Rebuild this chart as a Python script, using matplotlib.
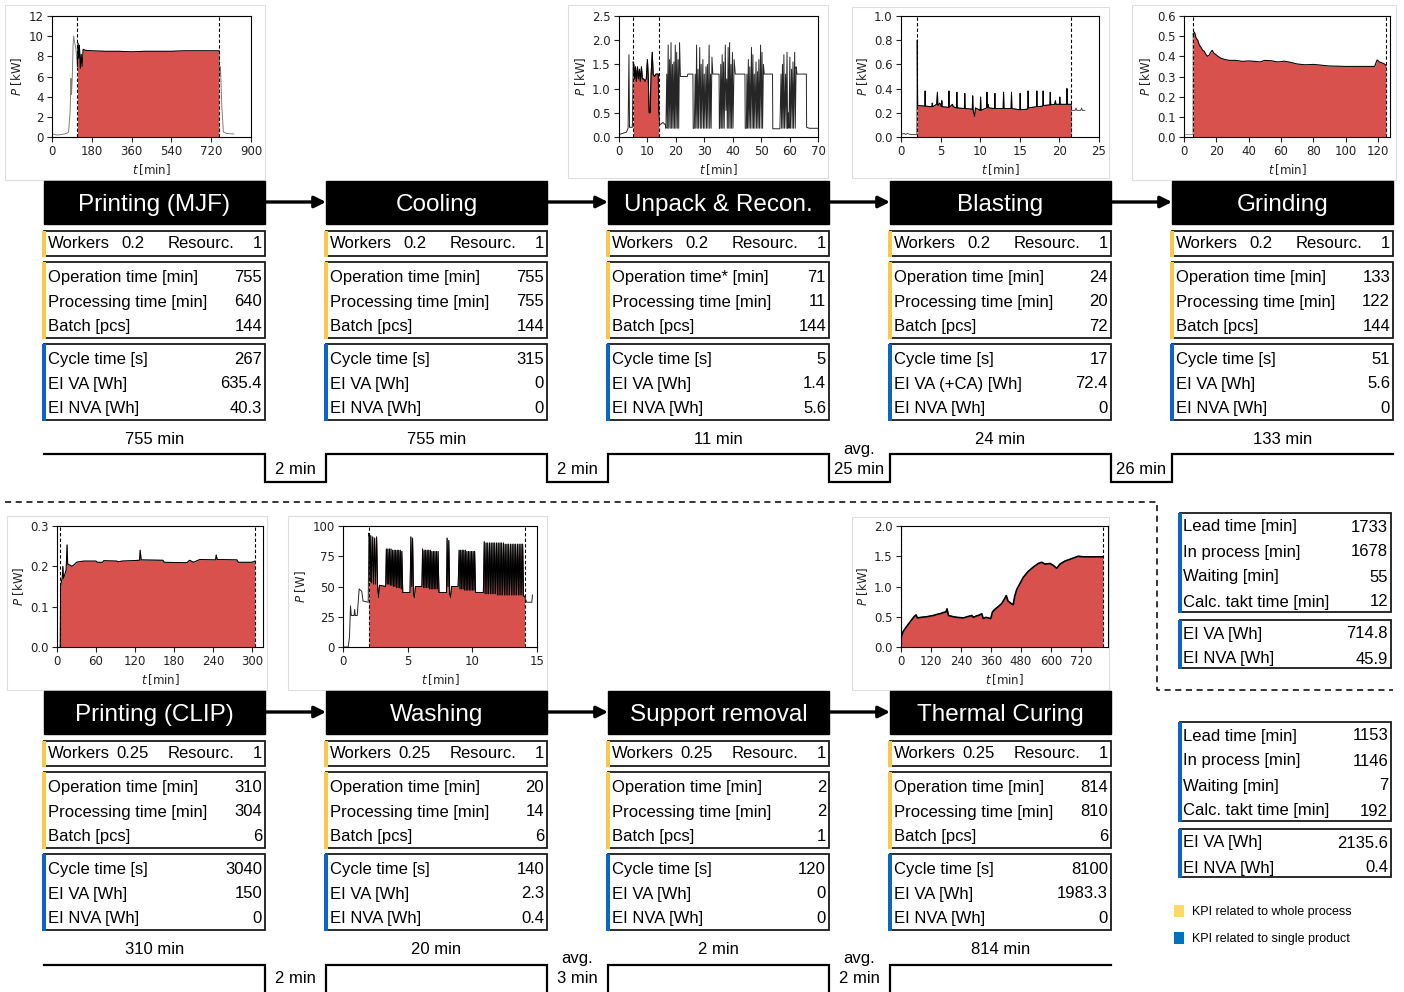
import numpy as np
import matplotlib
matplotlib.use("Agg")
import matplotlib.pyplot as plt
from matplotlib.patches import Rectangle

# ---------------------------------------------------------------- colours / fonts
RED = "#d9514d"
YELLOW = "#f8c94a"
BLUE = "#0a66c2"
EDGE = "#1a1a1a"
SANS = ["Liberation Sans", "DejaVu Sans"]

# ---------------------------------------------------------------- process KPIs, MJF line
mjf_names = ["Printing (MJF)", "Cooling", "Unpack & Recon.", "Blasting", "Grinding"]
mjf_workers = [0.2, 0.2, 0.2, 0.2, 0.2]
mjf_resources = [1, 1, 1, 1, 1]
mjf_op_labels = ["Operation time [min]", "Operation time [min]", "Operation time* [min]",
                 "Operation time [min]", "Operation time [min]"]
mjf_operation = [755, 755, 71, 24, 133]
mjf_processing = [640, 755, 11, 20, 122]
mjf_batch = [144, 144, 144, 72, 144]
mjf_cycle = [267, 315, 5, 17, 51]
mjf_va_labels = ["EI VA [Wh]", "EI VA [Wh]", "EI VA [Wh]", "EI VA (+CA) [Wh]", "EI VA [Wh]"]
mjf_ei_va = [635.4, 0, 1.4, 72.4, 5.6]
mjf_ei_nva = [40.3, 0, 5.6, 0, 0]
mjf_step_minutes = [755, 755, 11, 24, 133]
mjf_wait_minutes = [2, 2, 25, 26]
mjf_wait_is_avg = [False, False, True, False]

# ---------------------------------------------------------------- process KPIs, CLIP line
clip_names = ["Printing (CLIP)", "Washing", "Support removal", "Thermal Curing"]
clip_workers = [0.25, 0.25, 0.25, 0.25]
clip_resources = [1, 1, 1, 1]
clip_operation = [310, 20, 2, 814]
clip_processing = [304, 14, 2, 810]
clip_batch = [6, 6, 1, 6]
clip_cycle = [3040, 140, 120, 8100]
clip_ei_va = [150, 2.3, 0, 1983.3]
clip_ei_nva = [0, 0.4, 0, 0]
clip_step_minutes = [310, 20, 2, 814]
clip_wait_minutes = [2, 3, 2]
clip_wait_is_avg = [False, True, True]

# ---------------------------------------------------------------- line totals
summary_labels = ["Lead time [min]", "In process [min]", "Waiting [min]", "Calc. takt time [min]"]
energy_labels = ["EI VA [Wh]", "EI NVA [Wh]"]
mjf_summary = [1733, 1678, 55, 12]
mjf_energy = [714.8, 45.9]
clip_summary = [1153, 1146, 7, 192]
clip_energy = [2135.6, 0.4]

# ---------------------------------------------------------------- power traces (t [min], P)
mjf_trace = [
    (0, 0.3), (10, 0.25), (25, 0.2), (45, 0.25), (65, 0.35), (75, 0.5), (82, 2.5),
    (86, 5.8), (88, 4.2), (92, 6.0), (95, 9.0), (98, 10.0), (103, 9.3), (108, 8.8),
    (115, 7.0), (118, 9.3), (121, 7.8), (124, 9.1), (128, 6.8), (132, 8.2), (136, 7.0),
    (141, 8.7), (150, 8.6), (180, 8.55), (240, 8.5), (300, 8.5), (360, 8.45), (420, 8.5),
    (480, 8.5), (540, 8.5), (600, 8.55), (660, 8.55), (720, 8.55), (755, 8.55),
    (758, 6.0), (762, 7.0), (768, 3.0), (775, 0.5), (790, 0.35), (822, 0.3),
]
mjf_window = (115, 755)

unpack_trace = [
    (0.0, 0.05), (1.5, 0.08), (2.6, 0.10), (3.2, 0.18), (3.5, 1.70), (3.7, 0.20), (4.7, 0.20),
    (5.0, 1.55), (5.2, 1.50), (5.5, 1.20), (5.8, 1.45), (6.1, 1.15), (6.5, 1.45), (6.8, 1.20),
    (7.2, 1.40), (7.5, 1.15), (7.9, 1.45), (8.2, 1.20), (8.7, 1.20), (9.2, 1.15), (9.6, 1.20),
    (10.0, 1.60), (10.3, 1.20), (10.6, 0.50), (11.0, 0.50), (11.3, 1.30), (11.7, 1.75),
    (12.0, 1.30), (12.5, 1.25), (13.0, 1.30), (13.8, 1.30), (14.0, 0.50),
    (14.3, 0.25), (15.5, 0.30), (16.3, 0.25), (16.5, 0.18),
    (16.8, 1.30), (17.0, 0.18), (17.3, 1.90), (17.5, 0.18), (17.8, 1.60), (18.0, 0.18),
    (18.3, 1.95), (18.5, 0.18), (18.8, 1.50), (19.0, 0.18), (19.3, 1.55), (19.5, 0.18),
    (19.8, 1.90), (20.0, 0.18), (20.3, 1.75), (20.5, 0.18), (20.8, 1.60), (21.0, 0.18),
    (21.3, 1.95), (21.6, 1.25), (24.0, 1.25), (24.2, 1.30), (26.0, 1.30), (26.1, 0.18),
    (26.5, 0.18), (26.8, 1.30), (27.0, 0.18), (27.3, 1.90), (27.5, 0.18), (27.8, 1.40),
    (28.0, 0.18), (28.4, 1.85), (28.6, 0.18), (28.9, 1.50), (29.1, 0.18), (29.5, 1.60),
    (29.7, 0.18), (30.0, 1.30), (30.2, 0.18), (30.6, 1.45), (30.8, 0.18), (31.1, 1.50),
    (31.3, 0.18), (31.7, 1.90), (31.9, 0.18), (32.2, 1.30), (32.4, 0.18), (32.7, 1.65),
    (33.0, 1.30), (35.2, 1.30), (35.3, 0.18), (35.5, 0.18), (35.8, 1.50), (36.0, 0.18),
    (36.3, 1.70), (36.5, 0.18), (36.8, 1.55), (37.0, 0.18), (37.4, 1.90), (37.6, 0.55),
    (37.9, 1.20), (38.1, 0.18), (38.4, 1.85), (38.6, 0.18), (38.9, 1.95), (39.1, 0.18),
    (39.4, 1.50), (39.6, 0.18), (39.9, 1.75), (40.1, 0.18), (40.5, 1.60), (40.9, 1.30),
    (44.3, 1.30), (44.4, 0.18), (44.8, 0.18), (45.0, 1.30), (45.2, 0.18), (45.5, 1.60),
    (45.7, 0.18), (46.0, 1.45), (46.2, 0.18), (46.6, 1.85), (46.8, 0.18), (47.1, 1.70),
    (47.3, 0.18), (47.6, 1.30), (47.8, 0.18), (48.2, 1.55), (48.4, 0.18), (48.7, 1.35),
    (48.9, 0.18), (49.2, 1.60), (49.4, 0.18), (49.8, 1.90), (50.0, 0.18), (50.3, 1.75),
    (50.5, 0.18), (50.8, 1.50), (51.1, 1.30), (54.0, 1.30), (54.1, 0.17), (56.6, 0.17),
    (57.0, 1.30), (57.2, 0.18), (57.5, 1.50), (57.7, 0.18), (58.0, 1.70), (58.2, 0.18),
    (58.6, 1.30), (58.8, 0.18), (59.1, 1.75), (59.3, 0.18), (59.6, 0.50), (59.8, 0.18),
    (60.1, 1.65), (60.3, 0.18), (60.7, 1.40), (60.9, 0.18), (61.2, 1.55), (61.4, 0.18),
    (61.8, 1.75), (62.0, 0.18), (62.3, 1.45), (62.6, 1.30), (65.9, 1.30), (66.0, 0.20),
    (67.0, 0.18), (70.0, 0.18),
]
unpack_window = (5.0, 14.0)

blasting_trace = [
    (0.0, 0.02), (0.4, 0.03), (0.6, 0.02), (0.8, 0.03), (1.2, 0.02), (2.0, 0.02),
    (2.05, 0.80), (2.1, 0.26), (3.0, 0.255), (3.05, 0.38), (3.1, 0.255), (3.9, 0.25),
    (3.95, 0.28), (4.0, 0.25), (4.5, 0.27), (4.6, 0.37), (4.65, 0.26), (4.9, 0.28),
    (5.1, 0.25), (5.15, 0.30), (5.2, 0.25), (6.0, 0.245), (6.05, 0.38), (6.1, 0.245),
    (6.5, 0.27), (6.6, 0.25), (7.0, 0.24), (7.05, 0.37), (7.1, 0.24), (8.0, 0.235),
    (8.05, 0.36), (8.1, 0.235), (9.0, 0.23), (9.05, 0.34), (9.1, 0.22), (9.3, 0.17),
    (9.4, 0.24), (10.0, 0.22), (10.05, 0.33), (10.1, 0.22), (10.8, 0.24), (10.85, 0.37),
    (10.9, 0.24), (11.0, 0.27), (11.1, 0.24), (11.8, 0.235), (11.85, 0.36), (11.9, 0.235),
    (12.9, 0.235), (12.95, 0.37), (13.0, 0.235), (13.9, 0.235), (13.95, 0.37), (14.0, 0.235),
    (15.0, 0.225), (15.05, 0.36), (15.1, 0.225), (16.0, 0.23), (16.05, 0.38), (16.1, 0.24),
    (17.1, 0.25), (17.15, 0.38), (17.2, 0.25), (17.9, 0.255), (17.95, 0.38), (18.0, 0.26),
    (18.8, 0.265), (18.85, 0.37), (18.9, 0.265), (19.4, 0.27), (19.5, 0.30), (19.55, 0.27),
    (20.0, 0.27), (20.05, 0.33), (20.1, 0.27), (20.9, 0.27), (20.95, 0.40), (21.0, 0.27),
    (21.5, 0.27), (21.55, 0.22), (22.0, 0.22), (22.1, 0.24), (22.2, 0.22), (22.7, 0.22),
    (22.8, 0.24), (22.9, 0.22), (23.2, 0.22),
]
blasting_window = (2.05, 21.5)

grinding_trace = [
    (0.0, 0.012), (5.5, 0.012), (5.6, 0.51), (6.5, 0.52), (7.5, 0.49), (8.5, 0.48),
    (9.5, 0.455), (10.5, 0.445), (11.5, 0.43), (12.5, 0.425), (13.5, 0.41), (14.5, 0.40),
    (15.5, 0.405), (16.5, 0.42), (17.5, 0.43), (18.5, 0.415), (19.5, 0.41), (21.0, 0.40),
    (23.0, 0.39), (25.0, 0.385), (28.0, 0.38), (32.0, 0.38), (36.0, 0.375), (40.0, 0.377),
    (44.0, 0.375), (47.0, 0.372), (50.0, 0.38), (54.0, 0.378), (58.0, 0.372), (62.0, 0.376),
    (66.0, 0.37), (70.0, 0.362), (75.0, 0.358), (80.0, 0.36), (85.0, 0.356), (90.0, 0.352),
    (100.0, 0.35), (110.0, 0.35), (118.0, 0.35), (119.5, 0.382), (121.0, 0.372),
    (123.0, 0.366), (124.0, 0.362), (125.0, 0.355),
]
grinding_window = (5.6, 125.0)

clip_trace = [
    (5.0, 0.0), (5.5, 0.15), (6.5, 0.16), (8.0, 0.17), (9.0, 0.20), (10.0, 0.17),
    (12.0, 0.18), (14.0, 0.19), (15.5, 0.253), (16.5, 0.205), (20.0, 0.203), (23.0, 0.20),
    (27.0, 0.205), (30.0, 0.21), (36.0, 0.212), (42.0, 0.213), (60.0, 0.213), (62.0, 0.21),
    (70.0, 0.21), (72.0, 0.214), (92.0, 0.213), (94.0, 0.211), (100.0, 0.213),
    (127.0, 0.215), (128.0, 0.24), (129.5, 0.216), (163.0, 0.215), (165.0, 0.21),
    (200.0, 0.209), (204.0, 0.215), (210.0, 0.21), (220.0, 0.217), (244.0, 0.216),
    (245.0, 0.228), (246.5, 0.217), (277.0, 0.216), (279.0, 0.21), (300.0, 0.21),
    (304.5, 0.213),
]
clip_window = (5.0, 304.5)

washing_trace = [
    (0.0, 0), (0.4, 0), (0.5, 8), (0.58, 34), (0.64, 26), (0.86, 26), (0.9, 31), (0.95, 26),
    (1.1, 26), (1.25, 48), (1.45, 46), (1.55, 38), (1.95, 37),
    (2.0, 94), (2.05, 90), (2.1, 54), (2.15, 92), (2.22, 53), (2.3, 91), (2.37, 52),
    (2.45, 90), (2.52, 52), (2.6, 91), (2.67, 51), (2.75, 41), (2.82, 51), (3.3, 50),
    (3.35, 81), (3.42, 52), (3.47, 81), (3.54, 52), (3.59, 81), (3.66, 51), (3.71, 81),
    (3.78, 51), (3.83, 80), (3.90, 50), (3.95, 80), (4.02, 50), (4.07, 80), (4.14, 49),
    (4.19, 80), (4.26, 49), (4.31, 80), (4.38, 49), (4.43, 80), (4.50, 48), (4.55, 79),
    (4.62, 45), (5.18, 45), (5.25, 91), (5.32, 50), (5.38, 90), (5.45, 44), (5.52, 41),
    (5.60, 50), (6.10, 50),
    (6.15, 81), (6.22, 49), (6.27, 80), (6.34, 49), (6.39, 80), (6.46, 49), (6.51, 80),
    (6.58, 49), (6.63, 80), (6.70, 48), (6.75, 80), (6.82, 48), (6.87, 79), (6.94, 48),
    (6.99, 79), (7.06, 48), (7.11, 79), (7.18, 48), (7.23, 79), (7.30, 48), (7.35, 79),
    (7.42, 45), (8.0, 45), (8.05, 90), (8.12, 50), (8.18, 88), (8.25, 44), (8.32, 41),
    (8.40, 50), (8.90, 50),
    (8.98, 80), (9.05, 48), (9.10, 80), (9.17, 48), (9.22, 80), (9.29, 48), (9.34, 80),
    (9.41, 47), (9.46, 80), (9.53, 47), (9.58, 79), (9.65, 47), (9.70, 79), (9.77, 47),
    (9.82, 79), (9.89, 47), (9.94, 79), (10.01, 47), (10.06, 79), (10.13, 47), (10.18, 79),
    (10.25, 45), (10.85, 45),
    (10.92, 87), (10.99, 44), (11.06, 86), (11.13, 44), (11.19, 86), (11.26, 44),
    (11.33, 86), (11.40, 44), (11.46, 86), (11.53, 44), (11.60, 86), (11.67, 44),
    (11.73, 86), (11.80, 44), (11.87, 86), (11.94, 43), (12.00, 86), (12.07, 43),
    (12.14, 86), (12.21, 43), (12.27, 86), (12.34, 43), (12.41, 86), (12.48, 43),
    (12.54, 85), (12.61, 43), (12.68, 85), (12.75, 43), (12.81, 85), (12.88, 43),
    (12.95, 85), (13.02, 43), (13.08, 85), (13.15, 43), (13.22, 85), (13.29, 43),
    (13.35, 85), (13.42, 43), (13.49, 85), (13.56, 43), (13.62, 85), (13.69, 43),
    (13.76, 85), (13.83, 43), (13.89, 85), (13.96, 42), (14.05, 42),
    (14.1, 40), (14.2, 37), (14.6, 37), (14.65, 43),
]
washing_window = (2.0, 14.05)

curing_trace = [
    (0, 0.15), (8, 0.25), (16, 0.30), (30, 0.38), (43, 0.45), (52, 0.50), (60, 0.53),
    (66, 0.48), (80, 0.49), (103, 0.50), (115, 0.51), (129, 0.52), (145, 0.54), (156, 0.55),
    (170, 0.57), (180, 0.58), (184, 0.63), (190, 0.52), (200, 0.51), (209, 0.50), (225, 0.49),
    (249, 0.48), (265, 0.50), (283, 0.52), (290, 0.49), (300, 0.51), (315, 0.53), (323, 0.55),
    (329, 0.47), (340, 0.49), (349, 0.48), (359, 0.47), (366, 0.58), (375, 0.62), (390, 0.67),
    (403, 0.72), (412, 0.78), (421, 0.85), (428, 0.76), (440, 0.72), (449, 0.70), (455, 0.84),
    (463, 0.95), (476, 1.05), (489, 1.15), (509, 1.25), (529, 1.32), (549, 1.38), (563, 1.40),
    (576, 1.37), (596, 1.38), (609, 1.35), (623, 1.30), (636, 1.37), (656, 1.42), (676, 1.45),
    (696, 1.48), (709, 1.50), (729, 1.49), (808, 1.49),
]
curing_window = (0, 808)

# ---------------------------------------------------------------- canvas in pixel units
W, H = 1404, 992
fig = plt.figure(figsize=(W / 100, H / 100), dpi=100)
ax = fig.add_axes([0, 0, 1, 1])
ax.set_xlim(0, W)
ax.set_ylim(H, 0)
ax.axis("off")

BOX_W = 221
TXT = 12


def fmt(v):
    return f"{v:g}"


def label(x, y, s, ha="left", **kw):
    ax.text(x, y, s, ha=ha, va="baseline", fontsize=kw.pop("fontsize", TXT), family=SANS,
            zorder=5, **kw)


def kpi_box(x0, y0, w, h, rows, bar_color, baselines, label_x=4):
    ax.add_patch(Rectangle((x0, y0), w, h, fill=False, ec=EDGE, lw=1.3, zorder=3))
    ax.add_patch(Rectangle((x0 - 2, y0 - 0.5), 4, h + 1, fc=bar_color, ec="none", zorder=4))
    for (name, value), yb in zip(rows, baselines):
        label(x0 + label_x, yb, name)
        label(x0 + w - 3, yb, value, ha="right")


def process_block(x0, ytop, name, workers, resources, op_label, op, proc, batch,
                  cycle, va_label, va, nva):
    ax.add_patch(Rectangle((x0, ytop), BOX_W, 43, fc="black", ec="black", lw=1, zorder=3))
    label(x0 + BOX_W / 2, ytop + 30, name, ha="center", color="white", fontsize=17.5)
    # workers / resources line
    yb = ytop + 50
    ax.add_patch(Rectangle((x0, yb), BOX_W, 25, fill=False, ec=EDGE, lw=1.3, zorder=3))
    ax.add_patch(Rectangle((x0 - 2, yb - 0.5), 4, 26, fc=YELLOW, ec="none", zorder=4))
    base = ytop + 67.5
    label(x0 + 4, base, "Workers")
    label(x0 + 89, base, fmt(workers), ha="center")
    label(x0 + 124, base, "Resourc.")
    label(x0 + BOX_W - 3, base, fmt(resources), ha="right")
    kpi_box(x0, ytop + 81, BOX_W, 76,
            [(op_label, fmt(op)), ("Processing time [min]", fmt(proc)), ("Batch [pcs]", fmt(batch))],
            YELLOW, [ytop + 101, ytop + 125.5, ytop + 150])
    kpi_box(x0, ytop + 163, BOX_W, 76,
            [("Cycle time [s]", fmt(cycle)), (va_label, fmt(va)), ("EI NVA [Wh]", fmt(nva))],
            BLUE, [ytop + 183, ytop + 207.5, ytop + 232])


def flow_arrows(lefts, y):
    for a, b in zip(lefts[:-1], lefts[1:]):
        ax.annotate("", xy=(b, y), xytext=(a + BOX_W, y),
                    arrowprops=dict(arrowstyle="-|>", lw=2.4, color="black",
                                    mutation_scale=17, shrinkA=0, shrinkB=0), zorder=4)


def time_line(lefts, y_hi, y_lo, steps, waits, is_avg, y_step_base, y_wait_base):
    xs, ys = [], []
    for i, x0 in enumerate(lefts):
        xs += [x0, x0 + BOX_W]
        ys += [y_hi, y_hi]
        if i < len(lefts) - 1:
            xs += [x0 + BOX_W, lefts[i + 1]]
            ys += [y_lo, y_lo]
        label(x0 + BOX_W / 2, y_step_base, f"{steps[i]} min", ha="center")
    ax.plot(xs, ys, color="black", lw=1.6, solid_joinstyle="miter", clip_on=False)
    for i in range(len(waits)):
        xc = (lefts[i] + BOX_W + lefts[i + 1]) / 2
        label(xc, y_wait_base, f"{waits[i]} min", ha="center")
        if is_avg[i]:
            label(xc, y_wait_base - 19.5, "avg.", ha="center")


def power_panel(frame, box, trace, window, xlim, xticks, ylim, yticks, unit="kW",
                idle_color="0.45", lw=0.7):
    fx0, fy0, fx1, fy1 = frame
    ax.add_patch(Rectangle((fx0, fy0), fx1 - fx0, fy1 - fy0, fill=False, ec="#dedede", lw=0.8))
    x0, y0, x1, y1 = box
    pax = fig.add_axes([x0 / W, 1 - y1 / H, (x1 - x0) / W, (y1 - y0) / H])
    t = np.array([p[0] for p in trace], dtype=float)
    p = np.array([p[1] for p in trace], dtype=float)
    inside = (t >= window[0]) & (t <= window[1])
    pax.plot(t, p, color=idle_color, lw=0.7)
    pax.fill_between(t[inside], p[inside], color=RED, lw=0)
    pax.plot(t[inside], p[inside], color="black", lw=lw)
    for w_ in window:
        pax.axvline(w_, color="black", lw=0.8, ls=(0, (3, 2)))
    pax.set_xlim(*xlim)
    pax.set_ylim(*ylim)
    pax.set_xticks(xticks)
    pax.set_yticks(yticks)
    pax.tick_params(labelsize=8.5, length=3.5, width=0.8, pad=2.5, colors="#222222")
    for s in pax.spines.values():
        s.set_linewidth(0.8)
    pax.set_xlabel(r"$t\,$[min]", fontsize=8.5, color="#222222", labelpad=3)
    pax.set_ylabel(rf"$P$ [{unit}]", fontsize=8.5, color="#222222", labelpad=3)
    return pax


# ---------------------------------------------------------------- MJF line (top)
top_lefts = [44, 326, 608, 890, 1172]
for i, x0 in enumerate(top_lefts):
    process_block(x0, 181, mjf_names[i], mjf_workers[i], mjf_resources[i], mjf_op_labels[i],
                  mjf_operation[i], mjf_processing[i], mjf_batch[i], mjf_cycle[i],
                  mjf_va_labels[i], mjf_ei_va[i], mjf_ei_nva[i])
flow_arrows(top_lefts, 202)
time_line(top_lefts, 454, 482, mjf_step_minutes, mjf_wait_minutes, mjf_wait_is_avg, 443.5, 473.5)

# ---------------------------------------------------------------- CLIP line (bottom)
bot_lefts = [44, 326, 608, 890]
for i, x0 in enumerate(bot_lefts):
    process_block(x0, 691, clip_names[i], clip_workers[i], clip_resources[i],
                  "Operation time [min]", clip_operation[i], clip_processing[i], clip_batch[i],
                  clip_cycle[i], "EI VA [Wh]", clip_ei_va[i], clip_ei_nva[i])
flow_arrows(bot_lefts, 712)
time_line(bot_lefts, 965, 995, clip_step_minutes, clip_wait_minutes, clip_wait_is_avg, 954.5, 983)

# ---------------------------------------------------------------- separator
ax.plot([5, 1157, 1157, 1393], [502, 502, 690, 690], color="black", lw=1.1,
        ls=(0, (4, 3)))


# ---------------------------------------------------------------- line totals
def summary(y0, values, energy):
    kpi_box(1180, y0, 211, 99, list(zip(summary_labels, [fmt(v) for v in values])), BLUE,
            [y0 + 18.5, y0 + 43.5, y0 + 68.5, y0 + 93.5], label_x=3)
    kpi_box(1180, y0 + 107, 211, 48, list(zip(energy_labels, [fmt(v) for v in energy])), BLUE,
            [y0 + 125.5, y0 + 150.5], label_x=3)


summary(513, mjf_summary, mjf_energy)
summary(722, clip_summary, clip_energy)

# ---------------------------------------------------------------- legend
ax.add_patch(Rectangle((1174, 905), 10, 12, fc="#ffd966", ec="none"))
ax.add_patch(Rectangle((1174, 932), 10, 12, fc="#0070c0", ec="none"))
ax.text(1192, 912, "KPI related to whole process", ha="left", va="center", fontsize=9, family=SANS)
ax.text(1192, 939, "KPI related to single product", ha="left", va="center", fontsize=9, family=SANS)

# ---------------------------------------------------------------- power profiles
power_panel((5, 5, 265, 180), (52, 16, 251, 137), mjf_trace, mjf_window,
            (0, 900), [0, 180, 360, 540, 720, 900], (0, 12), [0, 2, 4, 6, 8, 10, 12],
            idle_color="0.5")
power_panel((568, 5, 828, 178), (619, 16, 818, 137), unpack_trace, unpack_window,
            (0, 70), [0, 10, 20, 30, 40, 50, 60, 70], (0, 2.5), [0.0, 0.5, 1.0, 1.5, 2.0, 2.5],
            idle_color="0.15")
power_panel((852, 7, 1109, 178), (901, 16, 1099, 137), blasting_trace, blasting_window,
            (0, 25), [0, 5, 10, 15, 20, 25], (0, 1.0), [0.0, 0.2, 0.4, 0.6, 0.8, 1.0],
            idle_color="0.3")
power_panel((1132, 5, 1396, 180), (1184, 16, 1390, 137), grinding_trace, grinding_window,
            (0, 127.5), [0, 20, 40, 60, 80, 100, 120], (0, 0.6),
            [0.0, 0.1, 0.2, 0.3, 0.4, 0.5, 0.6], idle_color="0.6")
power_panel((7, 516, 267, 690), (57, 526, 263, 647), clip_trace, clip_window,
            (0, 317), [0, 60, 120, 180, 240, 300], (0, 0.3), [0.0, 0.1, 0.2, 0.3])
power_panel((288, 516, 547, 690), (343, 526, 537, 647), washing_trace, washing_window,
            (0, 15), [0, 5, 10, 15], (0, 100), [0, 25, 50, 75, 100], unit="W",
            idle_color="0.15", lw=0.6)
power_panel((852, 517, 1109, 690), (901, 526, 1108, 647), curing_trace, curing_window,
            (0, 828), [0, 120, 240, 360, 480, 600, 720], (0, 2.0),
            [0.0, 0.5, 1.0, 1.5, 2.0], lw=1.2)

fig.savefig("out.png", dpi=100)
